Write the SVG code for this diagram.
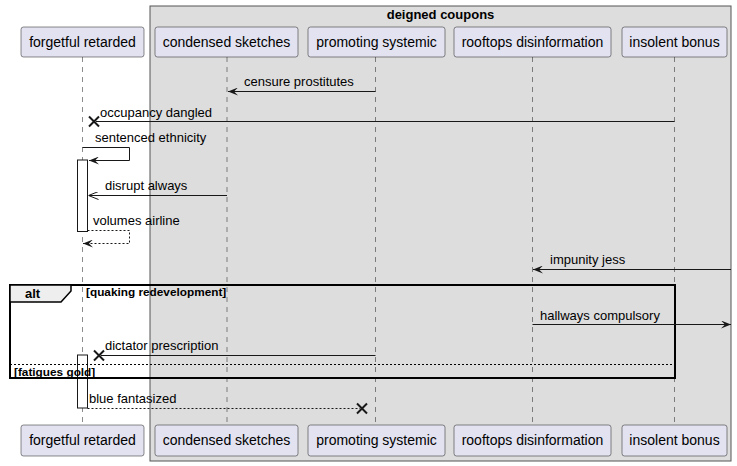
<svg xmlns="http://www.w3.org/2000/svg" width="737" height="466" viewBox="0 0 737 466">
<defs>
<style>
.p rect{fill:#E2E2F0;stroke:#181818;stroke-width:0.5}
.p text{font-family:"Liberation Sans",Arial,sans-serif;font-size:14px;fill:#000;text-anchor:middle}
.life{stroke:#181818;stroke-width:0.5;stroke-dasharray:5,5}
.m{stroke:#181818;stroke-width:1;fill:none}
.d{stroke:#181818;stroke-width:1;fill:none;stroke-dasharray:2,2}
.x{stroke:#181818;stroke-width:2}
.lbl{font-family:"Liberation Sans",Arial,sans-serif;font-size:13px;fill:#000}
.b{font-family:"Liberation Sans",Arial,sans-serif;font-weight:bold;fill:#000}
.act{fill:#FFFFFF;stroke:#181818;stroke-width:1}
</style>
<marker id="ah" viewBox="0 0 10 8" refX="10" refY="4" markerWidth="10" markerHeight="8" orient="auto" markerUnits="userSpaceOnUse">
<polygon points="0,0 10,4 0,8 4,4" fill="#181818"/>
</marker>
<marker id="oh" viewBox="0 0 10 8" refX="10" refY="4" markerWidth="10" markerHeight="8" orient="auto" markerUnits="userSpaceOnUse">
<polyline points="0,0 10,4 0,8" fill="none" stroke="#181818" stroke-width="1"/>
</marker>
</defs>
<rect x="0" y="0" width="737" height="466" fill="#FFFFFF"/>
<g id="group-deigned-coupons">
<rect x="150" y="6" width="581" height="455" fill="#DDDDDD" stroke="#555555" stroke-width="1"/>
<text class="b" x="440.5" y="19" font-size="13" text-anchor="middle">deigned coupons</text>
</g>
<g id="lifelines">
<line class="life" x1="82.5" y1="57" x2="82.5" y2="425"/>
<line class="life" x1="227" y1="57" x2="227" y2="425"/>
<line class="life" x1="375.5" y1="57" x2="375.5" y2="425"/>
<line class="life" x1="532.5" y1="57" x2="532.5" y2="425"/>
<line class="life" x1="674.5" y1="57" x2="674.5" y2="425"/>
</g>
<g id="activations">
<rect class="act" x="77.5" y="160" width="10" height="71.5"/>
<rect class="act" x="77.5" y="355" width="10" height="53"/>
</g>
<g id="frame-alt">
<rect x="10" y="285" width="665" height="93" fill="none" stroke="#000000" stroke-width="2"/>
<polygon points="10,285 71,285 71,291 61,302 10,302" fill="#EEEEEE" stroke="#000000" stroke-width="1.5"/>
<text class="b" x="25" y="298" font-size="13">alt</text>
<text class="b" x="86" y="296" font-size="11.8">[quaking redevelopment]</text>
<line x1="10" y1="364.5" x2="675" y2="364.5" stroke="#000000" stroke-width="1" stroke-dasharray="2,2"/>
<text class="b" x="14" y="376" font-size="11.8">[fatigues gold]</text>
</g>
<g id="connectors">
<line class="m" x1="375.5" y1="91.5" x2="228" y2="91.5" marker-end="url(#ah)"/>
<text class="lbl" x="244" y="86">censure prostitutes</text>

<line class="m" x1="674.5" y1="121.5" x2="96" y2="121.5"/>
<line class="x" x1="89" y1="116.5" x2="99" y2="126.5"/>
<line class="x" x1="89" y1="126.5" x2="99" y2="116.5"/>
<text class="lbl" x="100" y="117">occupancy dangled</text>

<polyline class="m" points="82.5,147.5 129.5,147.5 129.5,160.5 89,160.5" marker-end="url(#ah)"/>
<text class="lbl" x="95" y="142">sentenced ethnicity</text>

<line class="m" x1="227" y1="195.5" x2="88.5" y2="195.5" marker-end="url(#oh)"/>
<text class="lbl" x="105" y="190">disrupt always</text>

<polyline class="d" points="87.5,230.5 129.5,230.5 129.5,243.5 83,243.5" marker-end="url(#ah)"/>
<text class="lbl" x="93" y="225">volumes airline</text>

<line class="m" x1="731" y1="269.5" x2="533" y2="269.5" marker-end="url(#ah)"/>
<text class="lbl" x="550" y="264">impunity jess</text>

<line class="m" x1="532.5" y1="324.5" x2="731" y2="324.5" marker-end="url(#ah)"/>
<text class="lbl" x="540" y="320">hallways compulsory</text>

<line class="m" x1="375.5" y1="355.5" x2="101" y2="355.5"/>
<line class="x" x1="94" y1="350.5" x2="104" y2="360.5"/>
<line class="x" x1="94" y1="360.5" x2="104" y2="350.5"/>
<text class="lbl" x="105" y="350">dictator prescription</text>

<line class="d" x1="87.5" y1="408.5" x2="360" y2="408.5"/>
<line class="x" x1="357" y1="403.5" x2="367" y2="413.5"/>
<line class="x" x1="357" y1="413.5" x2="367" y2="403.5"/>
<text class="lbl" x="89" y="403">blue fantasized</text>
</g>
<g id="forgetful-retarded" class="p">
<rect x="21" y="27" width="123" height="30" rx="2.5"/>
<text x="82.5" y="47">forgetful retarded</text>
<rect x="21" y="425" width="123" height="31" rx="2.5"/>
<text x="82.5" y="445">forgetful retarded</text>
</g>
<g id="condensed-sketches" class="p">
<rect x="155" y="27" width="143" height="30" rx="2.5"/>
<text x="226.5" y="47">condensed sketches</text>
<rect x="155" y="425" width="143" height="31" rx="2.5"/>
<text x="226.5" y="445">condensed sketches</text>
</g>
<g id="promoting-systemic" class="p">
<rect x="308" y="27" width="137" height="30" rx="2.5"/>
<text x="376.5" y="47">promoting systemic</text>
<rect x="308" y="425" width="137" height="31" rx="2.5"/>
<text x="376.5" y="445">promoting systemic</text>
</g>
<g id="rooftops-disinformation" class="p">
<rect x="454" y="27" width="157" height="30" rx="2.5"/>
<text x="532.5" y="47">rooftops disinformation</text>
<rect x="454" y="425" width="157" height="31" rx="2.5"/>
<text x="532.5" y="445">rooftops disinformation</text>
</g>
<g id="insolent-bonus" class="p">
<rect x="622" y="27" width="105" height="30" rx="2.5"/>
<text x="674.5" y="47">insolent bonus</text>
<rect x="622" y="425" width="105" height="31" rx="2.5"/>
<text x="674.5" y="445">insolent bonus</text>
</g>
</svg>
